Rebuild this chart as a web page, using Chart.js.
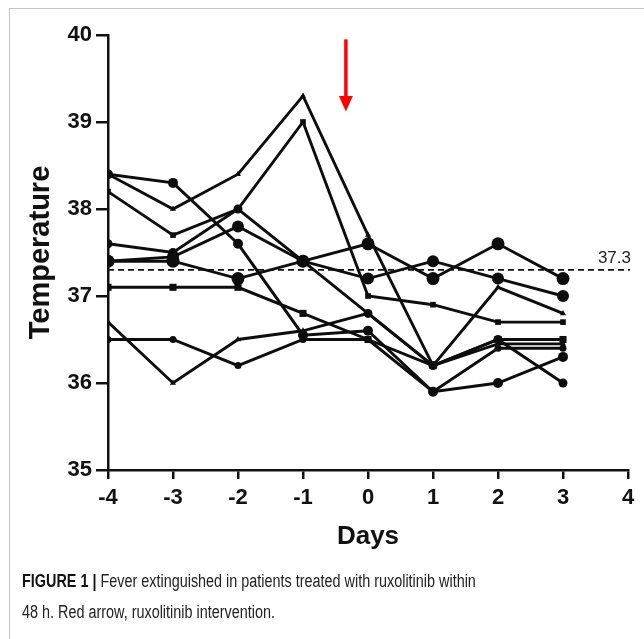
<!DOCTYPE html>
<html><head><meta charset="utf-8">
<script src="https://cdn.jsdelivr.net/npm/chart.js@4.4.0/dist/chart.umd.min.js"></script>
<style>
html,body{margin:0;padding:0;background:#fff;}
#wrap{position:relative;width:644px;height:639px;overflow:hidden;background:#fff;}
#frame{position:absolute;left:9px;top:8px;width:700px;height:700px;border-left:1.5px solid #c4c4c4;border-top:1.5px solid #c4c4c4;}
#c{position:absolute;left:0;top:0;}
#cap{position:absolute;left:22px;top:566px;font-family:"Liberation Sans",Arial,sans-serif;font-size:18px;line-height:31px;color:#222;white-space:nowrap;transform:scaleX(0.8);transform-origin:0 0;}
#cap b{font-weight:bold;color:#111;}
</style></head>
<body>
<div id="wrap">
<div id="frame"></div>
<canvas id="c" width="644" height="639"></canvas>
<div id="cap"><b>FIGURE 1 |</b> Fever extinguished in patients treated with ruxolitinib within<br>48 h. Red arrow, ruxolitinib intervention.</div>
</div>
<script>
// Data (days relative to ruxolitinib intervention)
const days = [-4, -3, -2, -1, 0, 1, 2, 3];
const patient1 = [38.4, 38.0, 38.4, 39.3, 37.7, 36.2, 37.1, 36.8];
const patient2 = [38.2, 37.7, 38.0, 39.0, 37.0, 36.9, 36.7, 36.7];
const patient3 = [37.6, 37.5, 38.0, 37.4, 36.8, 36.2, 36.5, 36.0];
const patient4 = [37.4, 37.45, 37.8, 37.4, 37.2, 37.4, 37.2, 37.0];
const patient5 = [37.4, 37.4, 37.2, 37.4, 37.6, 37.2, 37.6, 37.2];
const patient6 = [38.4, 38.3, 37.6, 36.55, 36.6, 35.9, 36.0, 36.3];
const patient7 = [37.1, 37.1, 37.1, 36.8, 36.5, 36.2, 36.5, 36.5];
const patient8 = [36.7, 36.0, 36.5, 36.6, 36.8, 36.2, 36.45, 36.45];
const patient9 = [36.5, 36.5, 36.2, 36.5, 36.5, 35.9, 36.4, 36.4];
const yTicks = [35, 36, 37, 38, 39, 40];
const xTicks = [-4, -3, -2, -1, 0, 1, 2, 3, 4];
const threshold = 37.3;
const thresholdLabel = '37.3';
const interventionDay = -0.34;

const series = [patient1, patient2, patient3, patient4, patient5, patient6, patient7, patient8, patient9];
const styles = ['triangle','rect','circle','circle','circle','circle','rect','triangle','circle'];
const radii  = [3.5, 4, 4.5, 6, 6.5, 5, 5, 3.5, 3.5];

const datasets = series.map((vals, i) => ({
  data: days.map((d, j) => ({x: d, y: vals[j]})),
  borderColor: '#0d0d0d', backgroundColor: '#0d0d0d',
  borderWidth: 2.9, pointStyle: styles[i], pointRadius: radii[i],
  pointBorderWidth: 0, tension: 0, fill: false
}));

const overlay = {
  id: 'overlay',
  afterDatasetsDraw(chart) {
    const {ctx, scales: {x, y}} = chart;
    ctx.save();
    ctx.strokeStyle = '#111'; ctx.lineWidth = 1.6; ctx.setLineDash([6, 4]);
    const ty = y.getPixelForValue(threshold);
    ctx.beginPath(); ctx.moveTo(x.left, ty); ctx.lineTo(x.right + 2, ty); ctx.stroke();
    ctx.setLineDash([]);
    ctx.fillStyle = '#222'; ctx.font = '17px "Liberation Sans", Arial'; ctx.textAlign = 'right'; ctx.textBaseline = 'bottom';
    ctx.fillText(thresholdLabel, x.right + 3, ty - 3);
    const ax = x.getPixelForValue(interventionDay);
    const y0 = y.getPixelForValue(39.95), y1 = y.getPixelForValue(39.3), y2 = y.getPixelForValue(39.12);
    ctx.strokeStyle = '#ff0000'; ctx.fillStyle = '#ff0000'; ctx.lineWidth = 3.5;
    ctx.beginPath(); ctx.moveTo(ax, y0); ctx.lineTo(ax, y1 + 2); ctx.stroke();
    ctx.beginPath(); ctx.moveTo(ax - 7, y1); ctx.lineTo(ax + 7, y1); ctx.lineTo(ax, y2); ctx.closePath(); ctx.fill();
    ctx.restore();
  }
};

new Chart(document.getElementById('c'), {
  type: 'line',
  data: { datasets },
  options: {
    responsive: false, animation: false, devicePixelRatio: 1,
    layout: { padding: { left: 0, top: 35, right: 16, bottom: 79 } },
    plugins: { legend: { display: false }, tooltip: { enabled: false } },
    scales: {
      x: {
        type: 'linear', min: -4, max: 4,
        afterFit(s) { s.height = 90; },
        afterBuildTicks(s) { s.ticks = xTicks.map(v => ({value: v})); },
        ticks: { color: '#111', font: { family: '"Liberation Sans", Arial', size: 22, weight: 'bold' }, padding: 6, maxRotation: 0, autoSkip: false },
        grid: { drawOnChartArea: false, drawTicks: true, tickLength: 9, color: '#111', lineWidth: 2.5 },
        border: { display: true, color: '#111', width: 2.5 },
        title: { display: true, text: 'Days', color: '#111', font: { family: '"Liberation Sans", Arial', size: 26, weight: 'bold' }, padding: { top: 0, bottom: 8 } }
      },
      y: {
        min: 35, max: 40,
        afterFit(s) { s.width = 108; },
        afterBuildTicks(s) { s.ticks = yTicks.map(v => ({value: v})); },
        ticks: { color: '#111', font: { family: '"Liberation Sans", Arial', size: 22, weight: 'bold' }, padding: 4 },
        grid: { drawOnChartArea: false, drawTicks: true, tickLength: 12, color: '#111', lineWidth: 2.5 },
        border: { display: true, color: '#111', width: 2.5 },
        title: { display: true, text: 'Temperature', color: '#111', font: { family: '"Liberation Sans", Arial', size: 29, weight: 'bold' }, padding: { top: 24, bottom: 0 } }
      }
    }
  },
  plugins: [overlay]
});
</script>
</body></html>
